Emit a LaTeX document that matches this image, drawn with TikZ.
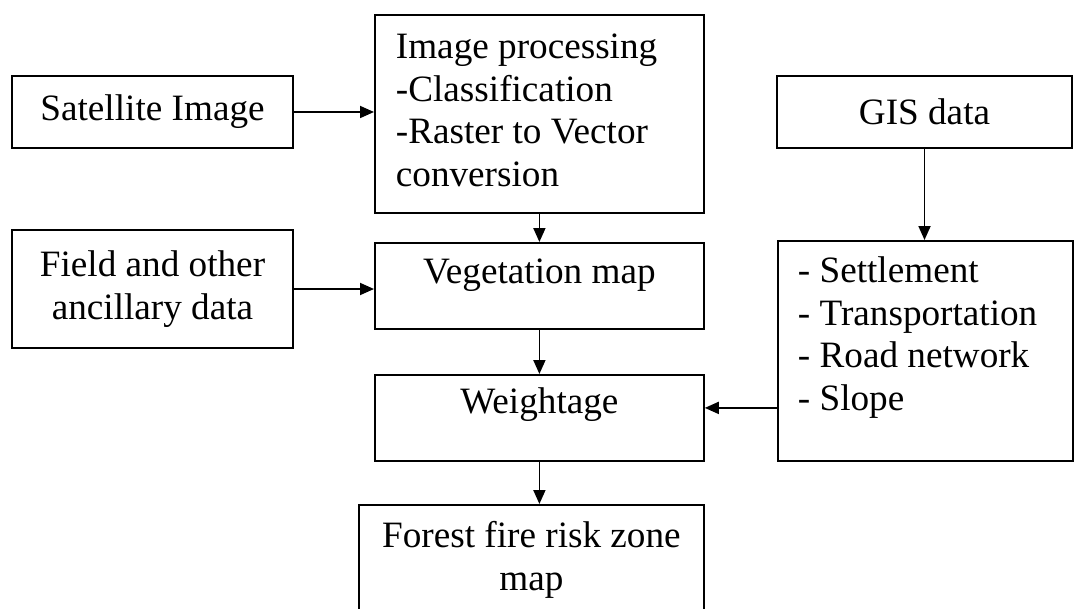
\documentclass[tikz,border=0pt]{standalone}
\usepackage{fontspec}
\setmainfont{Liberation Serif}
\usetikzlibrary{arrows.meta}

\tikzset{
  box/.style={draw, line width=0.9pt, inner sep=0pt},
  flow/.style={line width=0.9pt, -{Triangle[length=7pt,width=6pt]}}
}
% text block that starts at the top of a box
\newcommand{\boxlines}[5][\centering]{\parbox[t][#3][t]{#2}{#1\rule{0pt}{#4}#5}}

\begin{document}
\begin{tikzpicture}[x=0.5pt,y=-0.5pt,font=\fontsize{18.6}{21.2}\selectfont]
  \clip (0,0) rectangle (1074,609);
  % inputs
  \node[box, minimum width=140.5pt, minimum height=36pt] (sat) at (152.5,112) {Satellite Image};
  \node[box, minimum width=140.5pt, minimum height=59pt, align=center] (field) at (152.5,289) {Field and other\\ancillary data};
  \node[box, minimum width=147.5pt, minimum height=36pt] (gis) at (924.5,112) {GIS data};
  % middle column
  \node[box, anchor=north west, inner xsep=10.5pt] (ip) at (374,14)
    {\boxlines[\raggedright]{143.5pt}{99pt}{22pt}{Image processing\\-Classification\\-Raster to Vector\\conversion}};
  \node[box, anchor=north west] (veg) at (374,242) {\boxlines{164.5pt}{43pt}{20.5pt}{Vegetation map}};
  \node[box, anchor=north west] (weight) at (374,374) {\boxlines{164.5pt}{43pt}{19.5pt}{Weightage}};
  \node[box, anchor=north west] (risk) at (358,504) {\boxlines{172.5pt}{68pt}{21.5pt}{Forest fire risk zone\\map}};
  % gis layers
  \node[box, anchor=north west, inner xsep=10pt] (layers) at (777,240)
    {\boxlines[\raggedright]{127.5pt}{110pt}{21pt}{- Settlement\\- Transportation\\- Road network\\- Slope}};
  \coordinate (wtin) at ([yshift=5pt]weight.east);

  \draw[flow] (sat.east) -- (sat.east -| ip.west);
  \draw[flow] (field.east) -- (field.east -| veg.west);
  \draw[flow] (ip.south) -- (veg.north);
  \draw[flow] (veg.south) -- (weight.north);
  \draw[flow] (weight.south) -- (weight.south |- risk.north);
  \draw[flow] (gis.south) -- (gis.south |- layers.north);
  \draw[flow] (wtin -| layers.west) -- (wtin);
\end{tikzpicture}
\end{document}
